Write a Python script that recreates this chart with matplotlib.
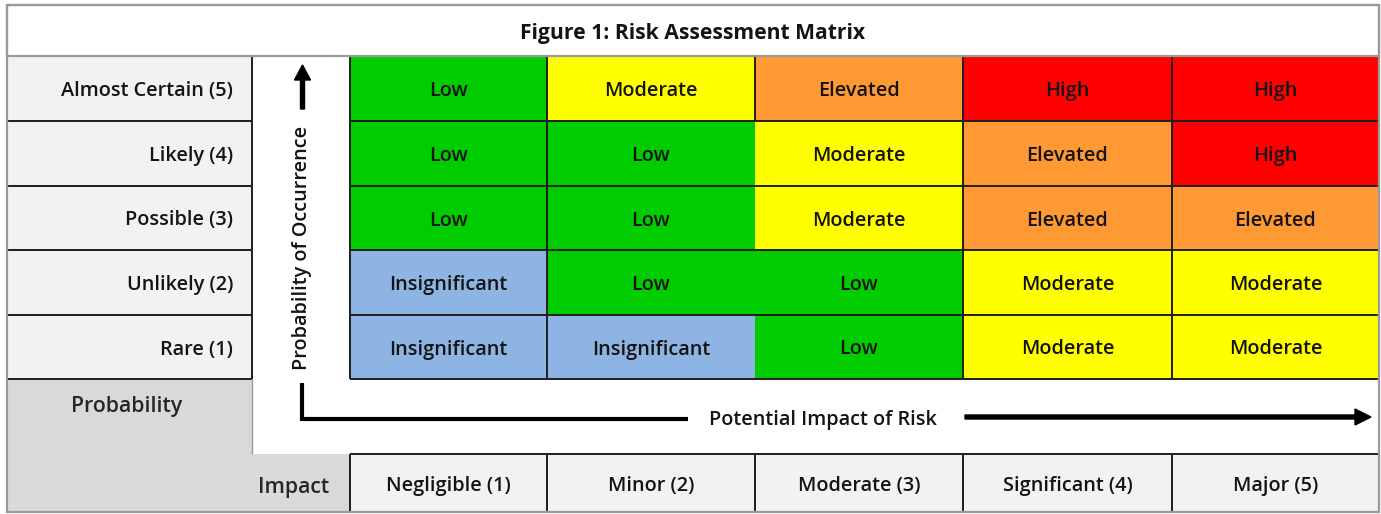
import matplotlib
matplotlib.use("Agg")
import matplotlib.pyplot as plt
from matplotlib.patches import Rectangle, FancyArrow

# ---------------- data ----------------
title = "Figure 1: Risk Assessment Matrix"
prob_labels = ["Almost Certain (5)", "Likely (4)", "Possible (3)", "Unlikely (2)", "Rare (1)"]
impact_labels = ["Negligible (1)", "Minor (2)", "Moderate (3)", "Significant (4)", "Major (5)"]
risk_almost_certain = ["Low", "Moderate", "Elevated", "High", "High"]
risk_likely = ["Low", "Low", "Moderate", "Elevated", "High"]
risk_possible = ["Low", "Low", "Moderate", "Elevated", "Elevated"]
risk_unlikely = ["Insignificant", "Low", "Low", "Moderate", "Moderate"]
risk_rare = ["Insignificant", "Insignificant", "Low", "Moderate", "Moderate"]
risk_rows = [risk_almost_certain, risk_likely, risk_possible, risk_unlikely, risk_rare]
y_axis_title = "Probability of Occurrence"
x_axis_title = "Potential Impact of Risk"
corner_prob = "Probability"
corner_impact = "Impact"

# ---------------- style ----------------
level_colors = {
    "Insignificant": "#8db4e2",
    "Low": "#00cc00",
    "Moderate": "#ffff00",
    "Elevated": "#ff9933",
    "High": "#ff0000",
}
FONT = ["Open Sans", "DejaVu Sans"]
FS = 14.3
WT = "semibold"
TXT = "#141414"
LINE = "#1e1e1e"
OUTER = "#9a9a9a"
DY = 2.5

W, H = 1381, 514
fig = plt.figure(figsize=(W / 100, H / 100), dpi=100)
ax = fig.add_axes([0, 0, 1, 1])
ax.set_xlim(0, W)
ax.set_ylim(H, 0)
ax.axis("off")

# layout
L, R = 7, 1379
T_TOP, T_BOT = 5, 56
row_edges = [56, 121, 186, 250, 315, 379]
col_edges = [350, 547, 755, 963, 1172, 1379]
LAB_R = 252
BOT_T, BOT_B = 454, 512
LW = 1.4

def rect(x0, y0, x1, y1, fc, ec="none", lw=0, z=1):
    ax.add_patch(Rectangle((x0, y0), x1 - x0, y1 - y0, facecolor=fc,
                           edgecolor=ec, linewidth=lw, zorder=z))

def hline(y, x0, x1, c=LINE, lw=LW, z=3):
    ax.plot([x0, x1], [y, y], color=c, lw=lw, zorder=z, solid_capstyle="butt")

def vline(x, y0, y1, c=LINE, lw=LW, z=3):
    ax.plot([x, x], [y0, y1], color=c, lw=lw, zorder=z, solid_capstyle="butt")

def txt(x, y, s, ha="center", fs=FS, wt=WT, color=TXT, dy=DY, **kw):
    ax.text(x, y + dy, s, ha=ha, va="center", fontsize=fs, fontweight=wt,
            family=FONT, color=color, zorder=5, **kw)

# backgrounds
rect(L, T_TOP, R, BOT_B, "white")
rect(L, row_edges[-1], LAB_R, BOT_B, "#d9d9d9")
rect(LAB_R, BOT_T, col_edges[0], BOT_B, "#d9d9d9")

# title
txt((L + R) / 2, (T_TOP + T_BOT) / 2, title, wt="bold", fs=15.2)

# probability labels
for i, lab in enumerate(prob_labels):
    y0, y1 = row_edges[i], row_edges[i + 1]
    rect(L, y0, LAB_R, y1, "#f2f2f2")
    txt(233, (y0 + y1) / 2, lab, ha="right")
for y in row_edges[1:]:
    hline(y, L, LAB_R)
vline(LAB_R, row_edges[0], row_edges[-1])
vline(LAB_R, row_edges[-1], BOT_T, c=OUTER, lw=1.0)

# risk cells
for i, row in enumerate(risk_rows):
    y0, y1 = row_edges[i], row_edges[i + 1]
    for j, lvl in enumerate(row):
        x0, x1 = col_edges[j], col_edges[j + 1]
        rect(x0, y0, x1, y1, level_colors[lvl], z=2)
        txt((x0 + x1) / 2, (y0 + y1) / 2, lvl)
for y in row_edges:
    hline(y, col_edges[0], col_edges[-1])
for k, x in enumerate(col_edges):
    if k == 2:
        vline(x, row_edges[0], row_edges[1])
    else:
        vline(x, row_edges[0], row_edges[-1])

# impact labels row
for j, lab in enumerate(impact_labels):
    x0, x1 = col_edges[j], col_edges[j + 1]
    rect(x0, BOT_T, x1, BOT_B, "#f2f2f2", z=2)
    txt((x0 + x1) / 2, (BOT_T + BOT_B) / 2 + 1, lab)
hline(BOT_T, col_edges[0], col_edges[-1])
for x in col_edges:
    vline(x, BOT_T, BOT_B)

txt(127, 404, corner_prob, fs=FS + 1, color="#262626")
txt(329, 485, corner_impact, ha="right", fs=FS + 1, color="#262626")

# axis arrows
AX_X = 302.5
ax.add_patch(FancyArrow(AX_X, 109, 0, -44, width=4, head_width=16, head_length=15,
                        length_includes_head=True, color="black", zorder=6))
txt(AX_X, 248, y_axis_title, rotation=90, dy=0)
ax.plot([AX_X, AX_X, 688], [383, 419, 419], color="black", lw=3, zorder=6,
        solid_joinstyle="miter", solid_capstyle="butt")
txt(823, 418, x_axis_title)
ax.add_patch(FancyArrow(965, 417, 406, 0, width=4, head_width=16, head_length=16,
                        length_includes_head=True, color="black", zorder=6))

# outer frames
rect(L, T_TOP, R, T_BOT, "none", ec=OUTER, lw=1.6, z=7)
rect(L, T_TOP, R, BOT_B, "none", ec=OUTER, lw=1.6, z=7)

fig.savefig("out.png", dpi=100)
